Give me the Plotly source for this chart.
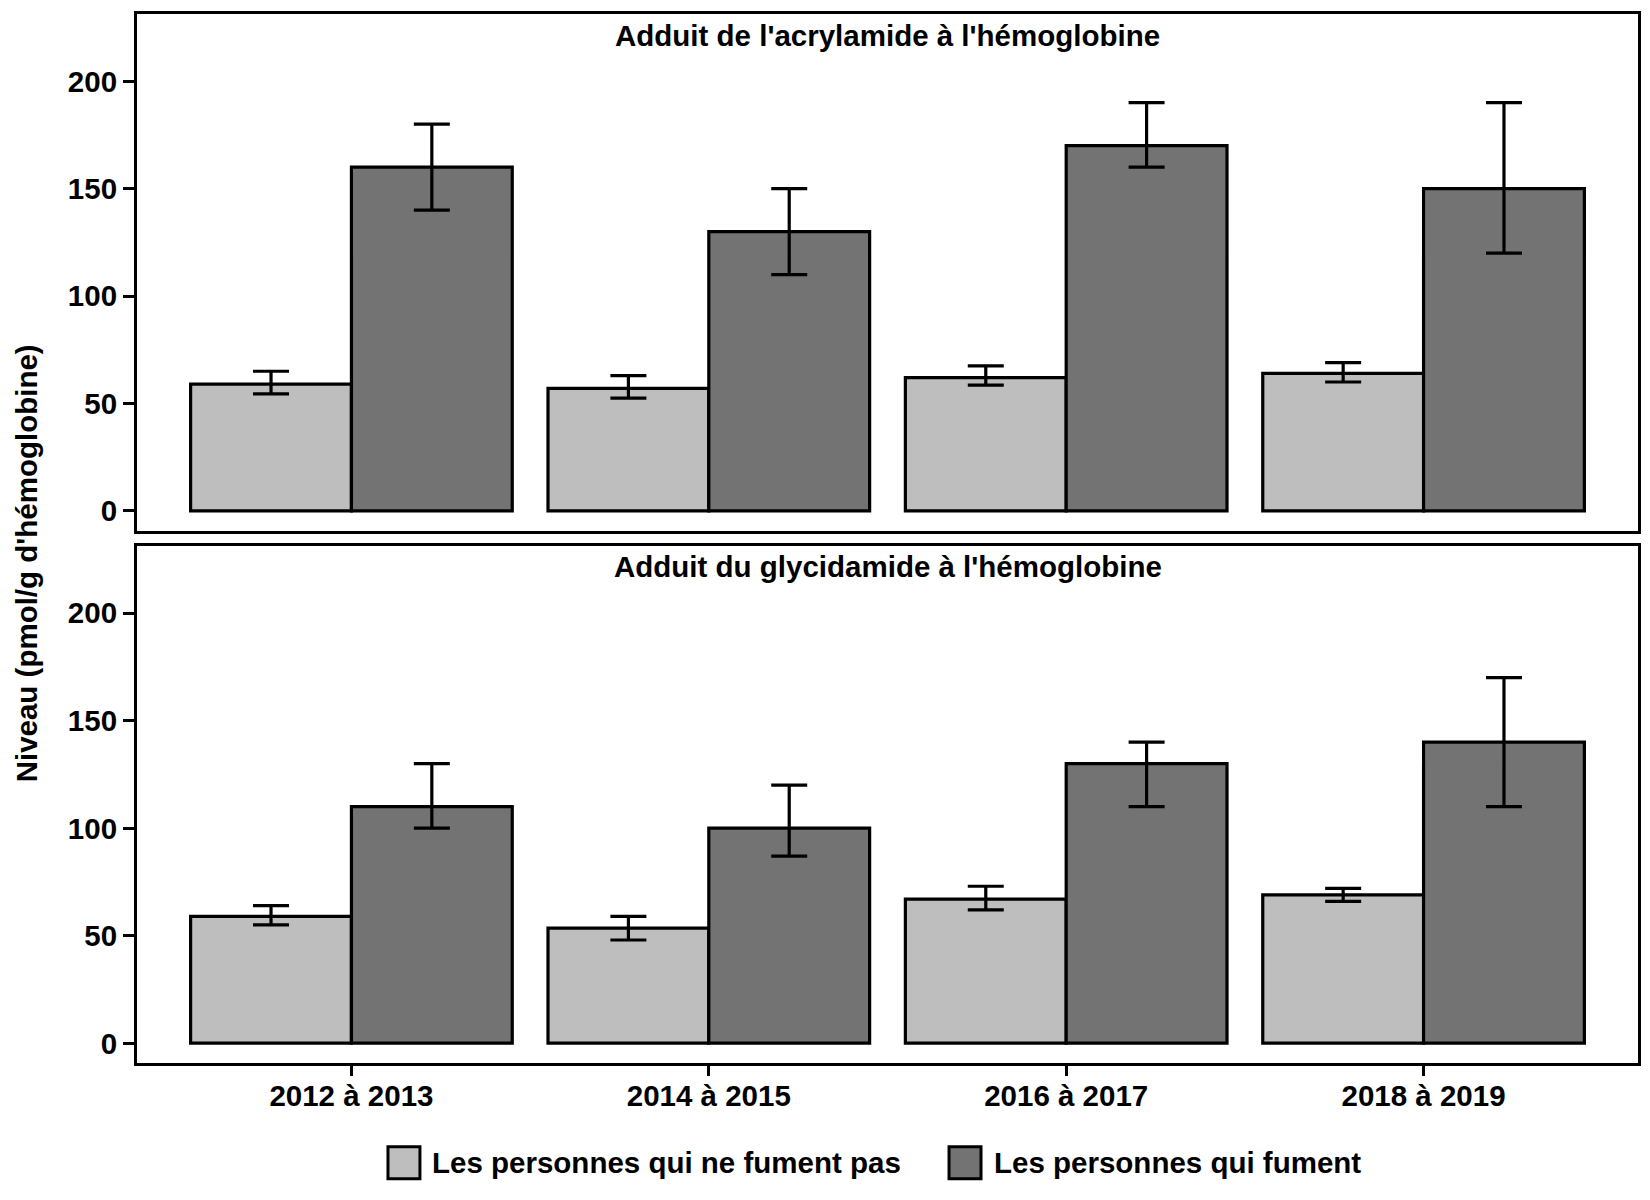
import plotly.graph_objects as go
from plotly.subplots import make_subplots

periods = ["2012 à 2013", "2014 à 2015", "2016 à 2017", "2018 à 2019"]
groups = ["Les personnes qui ne fument pas", "Les personnes qui fument"]
panel_titles = ["Adduit de l'acrylamide à l'hémoglobine", "Adduit du glycidamide à l'hémoglobine"]

# Acrylamide adduct (top panel)
acr_ns = [59, 57, 62, 64]
acr_ns_lo = [54.5, 52.5, 58.5, 60]
acr_ns_hi = [65, 63, 67.5, 69]
acr_s = [160, 130, 170, 150]
acr_s_lo = [140, 110, 160, 120]
acr_s_hi = [180, 150, 190, 190]

# Glycidamide adduct (bottom panel)
gly_ns = [59, 53.5, 67, 69]
gly_ns_lo = [55, 48, 62, 66]
gly_ns_hi = [64, 59, 73, 72]
gly_s = [110, 100, 130, 140]
gly_s_lo = [100, 87, 110, 110]
gly_s_hi = [130, 120, 140, 170]

colors = ["#BEBEBE", "#737373"]
FONT = "Liberation Sans, Arial, sans-serif"
FS = 29.5

fig = make_subplots(rows=2, cols=1, shared_xaxes=True, vertical_spacing=0.013)

panels = [
    [(acr_ns, acr_ns_lo, acr_ns_hi), (acr_s, acr_s_lo, acr_s_hi)],
    [(gly_ns, gly_ns_lo, gly_ns_hi), (gly_s, gly_s_lo, gly_s_hi)],
]

for r, panel in enumerate(panels, start=1):
    for g, (vals, lo, hi) in enumerate(panel):
        fig.add_trace(
            go.Bar(
                x=periods,
                y=vals,
                name=groups[g],
                legendgroup=groups[g],
                showlegend=False,
                marker=dict(color=colors[g], line=dict(color="black", width=3.2)),
                error_y=dict(
                    type="data",
                    symmetric=False,
                    array=[h - v for h, v in zip(hi, vals)],
                    arrayminus=[v - l for v, l in zip(vals, lo)],
                    color="black",
                    thickness=3.2,
                    width=18,
                ),
            ),
            row=r,
            col=1,
        )

fig.update_layout(
    width=1650,
    height=1200,
    barmode="group",
    bargap=0.1,
    bargroupgap=0,
    plot_bgcolor="white",
    paper_bgcolor="white",
    margin=dict(l=129, r=20, t=3, b=145),
    font=dict(family=FONT, size=FS, color="black", weight="bold"),
    showlegend=False,
)

axis_common = dict(
    showline=True,
    linecolor="black",
    linewidth=3,
    mirror=True,
    showgrid=False,
    zeroline=False,
)

fig.update_yaxes(
    **axis_common,
    range=[-9.2, 231.3],
    tickvals=[0, 50, 100, 150, 200],
    ticks="outside",
    ticklen=11,
    tickwidth=3,
    tickcolor="black",
    tickfont=dict(family=FONT, size=FS, color="black", weight="bold"),
)
fig.update_layout(yaxis=dict(domain=[0.5075, 1.0]), yaxis2=dict(domain=[0.0, 0.493]))

fig.update_xaxes(**axis_common, range=[-0.6, 3.6])
fig.update_xaxes(showticklabels=False, ticks="", row=1, col=1)
fig.update_xaxes(
    ticks="outside",
    ticklen=10,
    tickwidth=3,
    tickcolor="black",
    tickfont=dict(family=FONT, size=FS, color="black", weight="bold"),
    ticklabelstandoff=-5,
    row=2,
    col=1,
)

# Panel titles
for i, t in enumerate(panel_titles):
    yref = "y domain" if i == 0 else "y2 domain"
    fig.add_annotation(
        text=t, xref="paper", yref=yref, x=0.5, y=1, yanchor="middle",
        yshift=-21, showarrow=False,
        font=dict(family=FONT, size=FS, color="black", weight="bold"),
    )

# Y axis title
fig.add_annotation(
    text="Niveau (pmol/g d'hémoglobine)", xref="paper", yref="paper",
    x=-0.0735, y=0.476, xanchor="center", yanchor="middle", textangle=-90,
    showarrow=False, font=dict(family=FONT, size=FS, color="black", weight="bold"),
)

# Custom legend
legend_keys = [(0.1672, 0.1885, 0.1952), (0.541, 0.5623, 0.5696)]
for g, (x0, x1, xt) in enumerate(legend_keys):
    fig.add_shape(
        type="rect", xref="paper", yref="paper", x0=x0, x1=x1, y0=-0.1103, y1=-0.0799,
        fillcolor=colors[g], line=dict(color="black", width=3),
    )
    fig.add_annotation(
        text=groups[g], xref="paper", yref="paper", x=xt, y=-0.0951,
        xanchor="left", yanchor="middle", showarrow=False,
        font=dict(family=FONT, size=FS, color="black", weight="bold"),
    )

fig.write_html("out.html")
